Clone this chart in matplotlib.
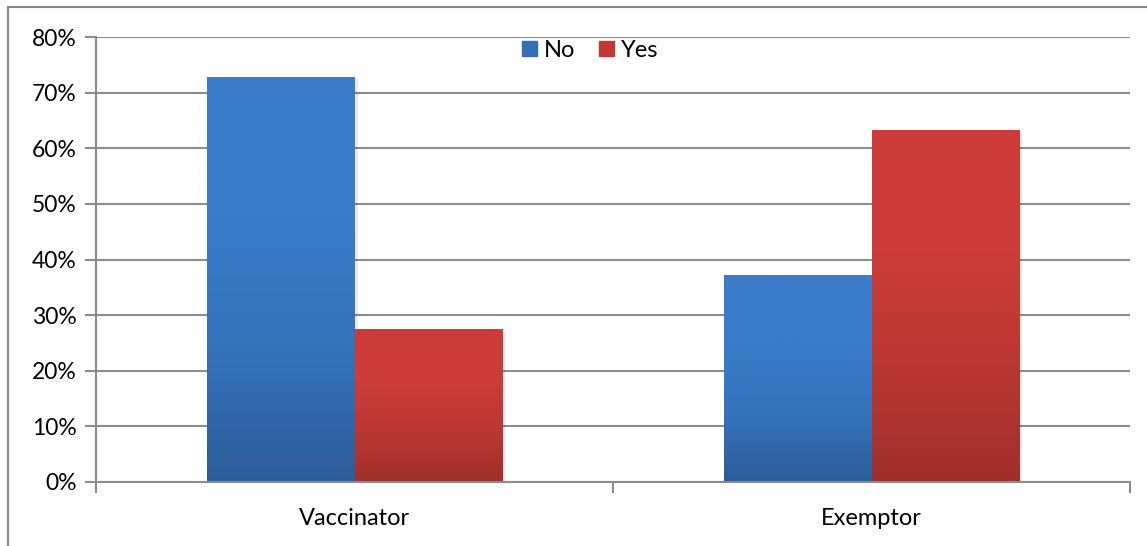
import numpy as np
import matplotlib.pyplot as plt
from matplotlib.colors import LinearSegmentedColormap
from matplotlib.patches import Rectangle
from matplotlib.lines import Line2D

# share of respondents (percent)
groups = ["Vaccinator", "Exemptor"]
no_vals = [72.7, 37.1]
yes_vals = [27.5, 63.2]
yticks = [0, 10, 20, 30, 40, 50, 60, 70, 80]

plt.rcParams['font.family'] = ['Lato', 'DejaVu Sans']

W, H = 1147, 546
fig = plt.figure(figsize=(W / 100, H / 100), dpi=100)
ax = fig.add_axes([96 / W, 1 - 482 / H, (1130 - 96) / W, (482 - 37) / H])

blue = LinearSegmentedColormap.from_list("b", ["#2d5c9a", "#3573bb", "#3a7cca", "#3a7cca"])
red = LinearSegmentedColormap.from_list("r", ["#9f2f2c", "#ba3733", "#cc3c38", "#cd3b37"])

bw = 0.286
x = np.arange(len(groups))


def grad_bar(xc, h, cmap, label):
    # flat bar for the legend handle, gradient image on top
    b = ax.bar(xc, h, width=bw, color=cmap(0.7), label=label, zorder=2)
    # faint shadow on the right
    ax.add_patch(Rectangle((xc + bw / 2, 0), 0.006, h - 0.3, color="#000000", alpha=0.08, lw=0, zorder=1.9))
    g = np.linspace(0, 1, 256).reshape(-1, 1)
    ax.imshow(g, cmap=cmap, aspect="auto", origin="lower",
              extent=(xc - bw / 2, xc + bw / 2, 0, h), zorder=2.1)
    return b


for i in range(len(groups)):
    grad_bar(x[i] - bw / 2, no_vals[i], blue, "No")
    grad_bar(x[i] + bw / 2, yes_vals[i], red, "Yes")

ax.set_xlim(-0.5, 1.5)
ax.set_ylim(0, 80)
ax.set_yticks(yticks)
ax.set_yticklabels([f"{v}%" for v in yticks])
ax.yaxis.grid(True, color="#8c8c8c", lw=1.5)
ax.set_axisbelow(True)

ax.set_xticks(x)
ax.set_xticklabels(groups)
ax.set_xticks([-0.5, 0.5, 1.5], minor=True)
ax.tick_params(axis="x", which="major", length=0, pad=19, labelsize=17)
ax.tick_params(axis="x", which="minor", length=8, width=1.5, color="#8c8c8c")
ax.tick_params(axis="y", length=8, width=1.5, color="#8c8c8c", pad=6, labelsize=16.5)

for s in ["top", "right"]:
    ax.spines[s].set_visible(False)
for s in ["left", "bottom"]:
    ax.spines[s].set_color("#8c8c8c")
    ax.spines[s].set_linewidth(1.5)

h = [Rectangle((0, 0), 1, 1, color="#3470b8"), Rectangle((0, 0), 1, 1, color="#c23834")]
ax.legend(h, ["No", "Yes"], loc="upper center", bbox_to_anchor=(0.478, 1.02), ncol=2,
          frameon=False, fontsize=17, handlelength=0.65, handleheight=0.65,
          handletextpad=0.3, columnspacing=1.0, borderpad=0.0)

# outer frame around the chart
fig.add_artist(Line2D([8 / W, 8 / W], [0, 1 - 7 / H], color="#878787", lw=1.5))
fig.add_artist(Line2D([8 / W, 1], [1 - 7 / H, 1 - 7 / H], color="#878787", lw=1.5))

fig.savefig("out.png", dpi=100)
